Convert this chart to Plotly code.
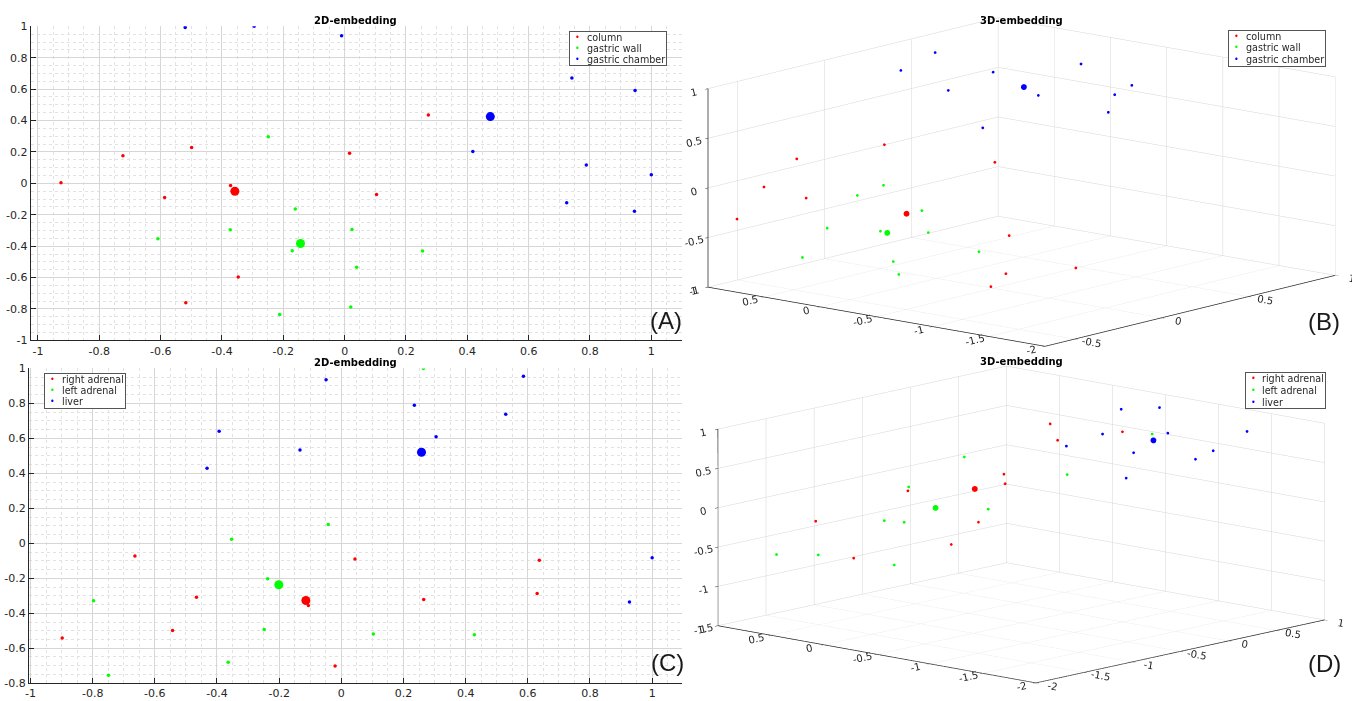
import plotly.graph_objects as go

W, H = 1352, 701
RED, GREEN, BLUE = '#ff0000', '#00ff00', '#0000ff'

# ---------------- Panel A : 2D embedding ----------------
A_names = ['column', 'gastric wall', 'gastric chamber']
A_red_x = [-0.925, -0.723, -0.499, -0.587, -0.372, -0.347, -0.518, 0.273, 0.016, 0.104]
A_red_y = [0.004, 0.175, 0.229, -0.090, -0.013, -0.596, -0.760, 0.436, 0.192, -0.071]
A_green_x = [-0.249, -0.161, -0.373, -0.609, -0.171, -0.212, 0.024, 0.254, 0.039, 0.020]
A_green_y = [0.296, -0.163, -0.296, -0.352, -0.429, -0.835, -0.294, -0.431, -0.535, -0.788]
A_blue_x = [-0.520, -0.295, -0.010, 0.418, 0.741, 0.947, 0.788, 1.000, 0.724, 0.945]
A_blue_y = [0.992, 1.000, 0.940, 0.203, 0.671, 0.592, 0.117, 0.054, -0.123, -0.177]
A_cent_x = [-0.358, -0.144, 0.475]
A_cent_y = [-0.050, -0.383, 0.425]

# ---------------- Panel C : 2D embedding ----------------
C_names = ['right adrenal', 'left adrenal', 'liver']
C_red_x = [-0.664, -0.466, -0.106, -0.543, -0.898, -0.020, 0.044, 0.637, 0.630, 0.265]
C_red_y = [-0.072, -0.308, -0.355, -0.499, -0.542, -0.702, -0.089, -0.097, -0.287, -0.321]
C_green_x = [-0.042, -0.353, -0.237, -0.797, -0.248, -0.364, -0.749, 0.264, 0.103, 0.428]
C_green_y = [0.107, 0.023, -0.203, -0.329, -0.493, -0.680, -0.755, 1.000, -0.518, -0.523]
C_blue_x = [-0.049, -0.393, -0.133, -0.432, 0.586, 0.235, 0.529, 0.305, 1.000, 0.927]
C_blue_y = [0.936, 0.641, 0.534, 0.429, 0.955, 0.790, 0.738, 0.609, -0.083, -0.336]
C_cent_x = [-0.114, -0.201, 0.258]
C_cent_y = [-0.327, -0.237, 0.521]

# ---------------- Panel B : 3D embedding ----------------
B_red_x = [-0.079, -0.328, -0.476, -0.400, -0.620, 0.148, 0.004, 0.088, -0.097, -0.165]
B_red_y = [0.344, 0.739, 0.802, 0.544, 0.819, -0.288, -0.638, -1.102, -0.765, -0.737]
B_red_z = [0.313, 0.198, -0.034, -0.127, -0.299, 0.164, -0.443, -0.713, -0.759, -0.865]
B_green_x = [-0.180, -0.269, -0.148, -0.422, -0.300, -0.186, -0.554, -0.109, -0.342, -0.360]
B_green_y = [0.196, 0.291, -0.096, 0.323, 0.038, -0.212, 0.339, -0.544, -0.142, -0.219]
B_green_z = [-0.023, -0.106, -0.234, -0.377, -0.403, -0.416, -0.619, -0.576, -0.655, -0.762]
B_blue_x = [0.453, 0.142, 0.363, 0.209, 0.598, 0.417, 0.670, 0.605, 0.547, 0.202]
B_blue_y = [0.715, 0.539, 0.060, 0.221, -0.359, -0.259, -0.700, -0.648, -0.681, -0.097]
B_blue_z = [0.940, 0.928, 0.911, 0.761, 0.976, 0.717, 0.798, 0.721, 0.575, 0.450]
B_cent_x = [-0.193, -0.287, 0.402]
B_cent_y = [-0.029, -0.003, -0.153]
B_cent_z = [-0.259, -0.417, 0.787]

# ---------------- Panel D : 3D embedding ----------------
D_red_x = [0.050, 0.017, 0.357, -0.374, -0.408, -0.894, -1.452, -0.692, -0.911, -1.425]
D_red_y = [-0.273, -0.373, -0.676, -0.222, -0.264, 0.212, 0.575, -0.270, -0.212, 0.241]
D_red_z = [0.828, 0.653, 0.743, 0.289, 0.187, 0.111, -0.214, -0.225, -0.463, -0.610]
D_green_x = [0.487, -0.489, -0.079, -0.874, -0.592, -1.127, -1.041, -1.773, -1.578, -1.263]
D_green_y = [-0.838, 0.047, -0.550, 0.223, -0.272, 0.223, 0.114, 0.653, 0.436, 0.006]
D_green_z = [0.719, 0.474, 0.285, 0.153, -0.085, -0.208, -0.225, -0.571, -0.575, -0.683]
D_blue_x = [0.443, 0.763, 0.254, 0.564, 0.943, 0.034, 0.323, 0.705, 0.587, 0.183]
D_blue_y = [-0.586, -0.657, -0.582, -0.916, -1.319, -0.440, -0.812, -1.216, -1.156, -0.869]
D_blue_z = [0.985, 0.938, 0.719, 0.729, 0.747, 0.590, 0.519, 0.540, 0.449, 0.247]
D_cent_x = [-0.572, -0.834, 0.467]
D_cent_y = [-0.126, 0.006, -0.868]
D_cent_z = [0.132, -0.071, 0.652]

# ---------------- ticks ----------------
T2 = [-1, -0.8, -0.6, -0.4, -0.2, 0, 0.2, 0.4, 0.6, 0.8, 1]
T2_text = ['-1', '-0.8', '-0.6', '-0.4', '-0.2', '0', '0.2', '0.4', '0.6', '0.8', '1']
T3 = [-2, -1.5, -1, -0.5, 0, 0.5, 1]
T3_text = ['-2', '-1.5', '-1', '-0.5', '0', '0.5', '1']

FONT = 'DejaVu Sans'
TXT = '#262626'


def px(xp):
    return xp / W


def py(yp):
    return 1 - yp / H


fig = go.Figure()

# 2D traces
for xs, ys, c, n in [(A_red_x, A_red_y, RED, A_names[0]),
                     (A_green_x, A_green_y, GREEN, A_names[1]),
                     (A_blue_x, A_blue_y, BLUE, A_names[2])]:
    fig.add_trace(go.Scatter(x=xs, y=ys, mode='markers', name=n, showlegend=False,
                             marker=dict(size=3.5, color=c, line=dict(width=0)),
                             xaxis='x', yaxis='y'))
fig.add_trace(go.Scatter(x=A_cent_x, y=A_cent_y, mode='markers', showlegend=False,
                         marker=dict(size=9, color=[RED, GREEN, BLUE], line=dict(width=0)),
                         xaxis='x', yaxis='y'))

for xs, ys, c, n in [(C_red_x, C_red_y, RED, C_names[0]),
                     (C_green_x, C_green_y, GREEN, C_names[1]),
                     (C_blue_x, C_blue_y, BLUE, C_names[2])]:
    fig.add_trace(go.Scatter(x=xs, y=ys, mode='markers', name=n, showlegend=False,
                             marker=dict(size=3.5, color=c, line=dict(width=0)),
                             xaxis='x2', yaxis='y2'))
fig.add_trace(go.Scatter(x=C_cent_x, y=C_cent_y, mode='markers', showlegend=False,
                         marker=dict(size=9, color=[RED, GREEN, BLUE], line=dict(width=0)),
                         xaxis='x2', yaxis='y2'))

# 3D traces
S3_SMALL, S3_BIG = 1.6, 3.4
for xs, ys, zs, c, n in [(B_red_x, B_red_y, B_red_z, RED, A_names[0]),
                         (B_green_x, B_green_y, B_green_z, GREEN, A_names[1]),
                         (B_blue_x, B_blue_y, B_blue_z, BLUE, A_names[2])]:
    fig.add_trace(go.Scatter3d(x=xs, y=ys, z=zs, mode='markers', name=n, showlegend=False,
                               marker=dict(size=S3_SMALL, color=c, line=dict(width=0)), scene='scene'))
fig.add_trace(go.Scatter3d(x=B_cent_x, y=B_cent_y, z=B_cent_z, mode='markers', showlegend=False,
                           marker=dict(size=S3_BIG, color=[RED, GREEN, BLUE], line=dict(width=0)),
                           scene='scene'))

for xs, ys, zs, c, n in [(D_red_x, D_red_y, D_red_z, RED, C_names[0]),
                         (D_green_x, D_green_y, D_green_z, GREEN, C_names[1]),
                         (D_blue_x, D_blue_y, D_blue_z, BLUE, C_names[2])]:
    fig.add_trace(go.Scatter3d(x=xs, y=ys, z=zs, mode='markers', name=n, showlegend=False,
                               marker=dict(size=S3_SMALL, color=c, line=dict(width=0)), scene='scene2'))
fig.add_trace(go.Scatter3d(x=D_cent_x, y=D_cent_y, z=D_cent_z, mode='markers', showlegend=False,
                           marker=dict(size=S3_BIG, color=[RED, GREEN, BLUE], line=dict(width=0)),
                           scene='scene2'))


def ax2d(rng, dom, tv, tt, anchor):
    return dict(range=rng, domain=dom, anchor=anchor, tickvals=tv, ticktext=tt,
                showline=True, linecolor=TXT, linewidth=1, mirror=False,
                ticks='inside', ticklen=5, tickwidth=1, tickcolor=TXT,
                showgrid=True, gridcolor='#d6d6d6', gridwidth=1, zeroline=False,
                minor=dict(dtick=0.05, tick0=0, showgrid=True, gridcolor='#e2e2e2',
                           griddash='dot', gridwidth=1, ticks=''),
                tickfont=dict(family=FONT, size=11, color=TXT), fixedrange=True)


def ax3d(rng, tv, tt):
    return dict(range=rng, autorange=False, tickvals=tv, ticktext=tt,
                title=dict(text=''), showgrid=True, gridcolor='#d6d6d6', gridwidth=1,
                showline=True, linecolor=TXT, linewidth=1.5, showbackground=False,
                zeroline=False, showspikes=False, ticks='outside', ticklen=4,
                tickcolor=TXT, tickfont=dict(family=FONT, size=11, color=TXT))


# orthographic view: camera direction, box scale and a small sideways shift
R_EYE = 3.4
ZOOM = 2.58
B_dir = (-0.7465, -0.6324, 0.2072)
D_dir = (-0.7257, -0.6589, 0.1981)
B_ctr = (-0.0282, 0.0333, 0.0)
D_ctr = (-0.0294, 0.0324, 0.0)


def cam(d, c):
    return dict(projection=dict(type='orthographic'),
                center=dict(x=c[0], y=c[1], z=c[2]),
                eye=dict(x=c[0] + R_EYE * d[0], y=c[1] + R_EYE * d[1], z=c[2] + R_EYE * d[2]),
                up=dict(x=0, y=0, z=1))


fig.update_layout(
    width=W, height=H, margin=dict(l=0, r=0, t=0, b=0, pad=0),
    paper_bgcolor='white', plot_bgcolor='white', hovermode=False, showlegend=False,
    xaxis=ax2d([-1.024, 1.100], [px(26.7), px(680)], T2, T2_text, 'y'),
    yaxis=ax2d([-1.0, 1.0], [py(340.7), py(20.7)], T2, T2_text, 'x'),
    xaxis2=ax2d([-1.005, 1.096], [px(25), px(680)], T2, T2_text, 'y2'),
    yaxis2=ax2d([-0.8, 1.0], [py(690), py(369.3)], T2[1:], T2_text[1:], 'x2'),
    scene=dict(domain=dict(x=[px(674), 1.0], y=[py(357), py(2)]),
               xaxis=ax3d([-0.67, 1.0], T3[3:], T3_text[3:]),
               yaxis=ax3d([-2.0, 1.0], T3, T3_text),
               zaxis=ax3d([-1.0, 1.0], T3[2:], T3_text[2:]),
               aspectmode='manual',
               aspectratio=dict(x=1 * ZOOM, y=0.984 * ZOOM, z=0.452 * ZOOM),
               camera=cam(B_dir, B_ctr), bgcolor='rgba(0,0,0,0)'),
    scene2=dict(domain=dict(x=[px(674), 1.0], y=[py(698), py(359)]),
                xaxis=ax3d([-2.0, 1.0], T3, T3_text),
                yaxis=ax3d([-2.0, 1.0], T3, T3_text),
                zaxis=ax3d([-1.5, 1.0], T3[1:], T3_text[1:]),
                aspectmode='manual',
                aspectratio=dict(x=1 * ZOOM, y=1 * ZOOM, z=0.467 * ZOOM),
                camera=cam(D_dir, D_ctr), bgcolor='rgba(0,0,0,0)'),
)

ann = []
# titles
for cx, cy, t in [(353, 14.5, '2D-embedding'), (353, 363.3, '2D-embedding'),
                  (1021, 14.3, '3D-embedding'), (1021, 362.3, '3D-embedding')]:
    ann.append(dict(x=px(cx), y=py(cy), xref='paper', yref='paper', text='<b>' + t + '</b>',
                    showarrow=False, xanchor='center', yanchor='middle',
                    font=dict(family=FONT, size=10, color='black')))
# panel letters
for cx, cy, t in [(664, 320, '(A)'), (665, 668.5, '(C)'), (1324, 321.5, '(B)'), (1324, 670, '(D)')]:
    ann.append(dict(x=px(cx), y=py(cy), xref='paper', yref='paper', text=t, showarrow=False,
                    xanchor='center', yanchor='middle',
                    font=dict(family='Liberation Sans', size=24, color='#1a1a1a')))


# legends (box + rows)
def legend_block(x0, y0, x1, y1, dot_x, text_x, rows, names):
    ann.append(dict(x=px((x0 + x1) / 2), y=py((y0 + y1) / 2), xref='paper', yref='paper',
                    text=' ', showarrow=False, xanchor='center', yanchor='middle',
                    width=x1 - x0 - 2, height=y1 - y0 - 2, bgcolor='white',
                    bordercolor='#555555', borderwidth=1, borderpad=0))
    for ry, n, c in zip(rows, names, [RED, GREEN, BLUE]):
        ann.append(dict(x=px(dot_x), y=py(ry), xref='paper', yref='paper', text='•',
                        showarrow=False, xanchor='center', yanchor='middle', borderpad=0,
                        font=dict(family=FONT, size=8, color=c)))
        ann.append(dict(x=px(text_x), y=py(ry), xref='paper', yref='paper', text=n,
                        showarrow=False, xanchor='left', yanchor='middle', borderpad=0,
                        font=dict(family=FONT, size=9.6, color=TXT)))


legend_block(566.7, 25.7, 664.3, 61, 575.7, 584, [32.3, 43.5, 54.5], A_names)
legend_block(40.3, 374, 122.7, 410, 49, 57.5, [380.7, 392, 403.3], C_names)
legend_block(1228, 24.3, 1326, 61.7, 1236.5, 1245, [31, 42.7, 54.3], A_names)
legend_block(1245, 373.3, 1326, 410, 1253.4, 1261, [379.3, 391.7, 403.7], C_names)

fig.update_layout(annotations=ann)

fig.write_html('out.html', config={'displayModeBar': False})
